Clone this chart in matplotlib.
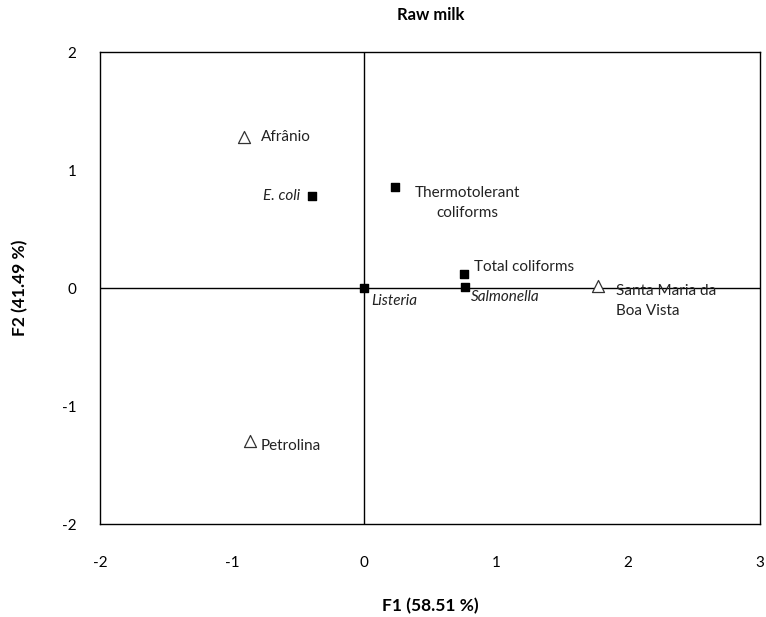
import matplotlib.pyplot as plt

plt.rcParams['font.family'] = ['Lato', 'DejaVu Sans']
plt.rcParams['axes.unicode_minus'] = False

# observations (triangles)
obs_names = ['Afrânio', 'Petrolina', 'Santa Maria da\nBoa Vista']
obs_x = [-0.91, -0.86, 1.77]
obs_y = [1.28, -1.30, 0.02]

# variables (squares)
var_names = ['E. coli', 'Thermotolerant\ncoliforms', 'Total coliforms', 'Salmonella', 'Listeria']
var_x = [-0.39, 0.235, 0.76, 0.765, 0.0]
var_y = [0.78, 0.86, 0.12, 0.01, 0.0]

fig = plt.figure(figsize=(7.66, 6.17), dpi=100)
ax = fig.add_axes([0.1305, 0.1507, 0.8615, 0.765])

ax.axhline(0, color='black', lw=1, zorder=1)
ax.axvline(0, color='black', lw=1, zorder=1)

ax.scatter(obs_x, obs_y, marker='^', s=75, facecolors='white', edgecolors='#333333', linewidths=0.9, zorder=3)
ax.scatter(var_x, var_y, marker='s', s=30, color='black', zorder=3)

# label offsets in points, alignment
obs_style = [((12, 0), 'left', 'center'),
             ((7, -3), 'left', 'center'),
             ((13, -11), 'left', 'center')]
for n, x, y, (off, ha, va) in zip(obs_names, obs_x, obs_y, obs_style):
    ax.annotate(n, (x, y), xytext=off, textcoords='offset points', ha=ha, va=va,
                fontsize=11, color='#222222', linespacing=1.55)

var_style = [((-9, 0), 'right', 'center', True),
             ((52, -12), 'center', 'center', False),
             ((7, 5), 'left', 'center', False),
             ((4, -7), 'left', 'center', True),
             ((5, -9), 'left', 'center', True)]
for n, x, y, (off, ha, va, it) in zip(var_names, var_x, var_y, var_style):
    ax.annotate(n, (x, y), xytext=off, textcoords='offset points', ha=ha, va=va,
                fontsize=11, color='#222222', linespacing=1.55,
                style='italic' if it else 'normal')

ax.set_xlim(-2, 3)
ax.set_ylim(-2, 2)
ax.set_xticks([-2, -1, 0, 1, 2, 3])
ax.set_yticks([-2, -1, 0, 1, 2])
ax.tick_params(length=0, labelsize=11)
ax.tick_params(axis='x', pad=23)
ax.tick_params(axis='y', pad=17)
for s in ax.spines.values():
    s.set_color('black')
    s.set_linewidth(1)

ax.set_xlabel('F1 (58.51 %)', fontsize=12.5, fontweight='bold', va='center')
ax.set_ylabel('F2 (41.49 %)', fontsize=12.5, fontweight='bold', va='center')
ax.xaxis.set_label_coords(0.5, -0.174)
ax.yaxis.set_label_coords(-0.121, 0.5)
fig.text(0.562, 0.975, 'Raw milk', fontsize=12, fontweight='bold', ha='center', va='center')

fig.savefig('out.png', dpi=100)
